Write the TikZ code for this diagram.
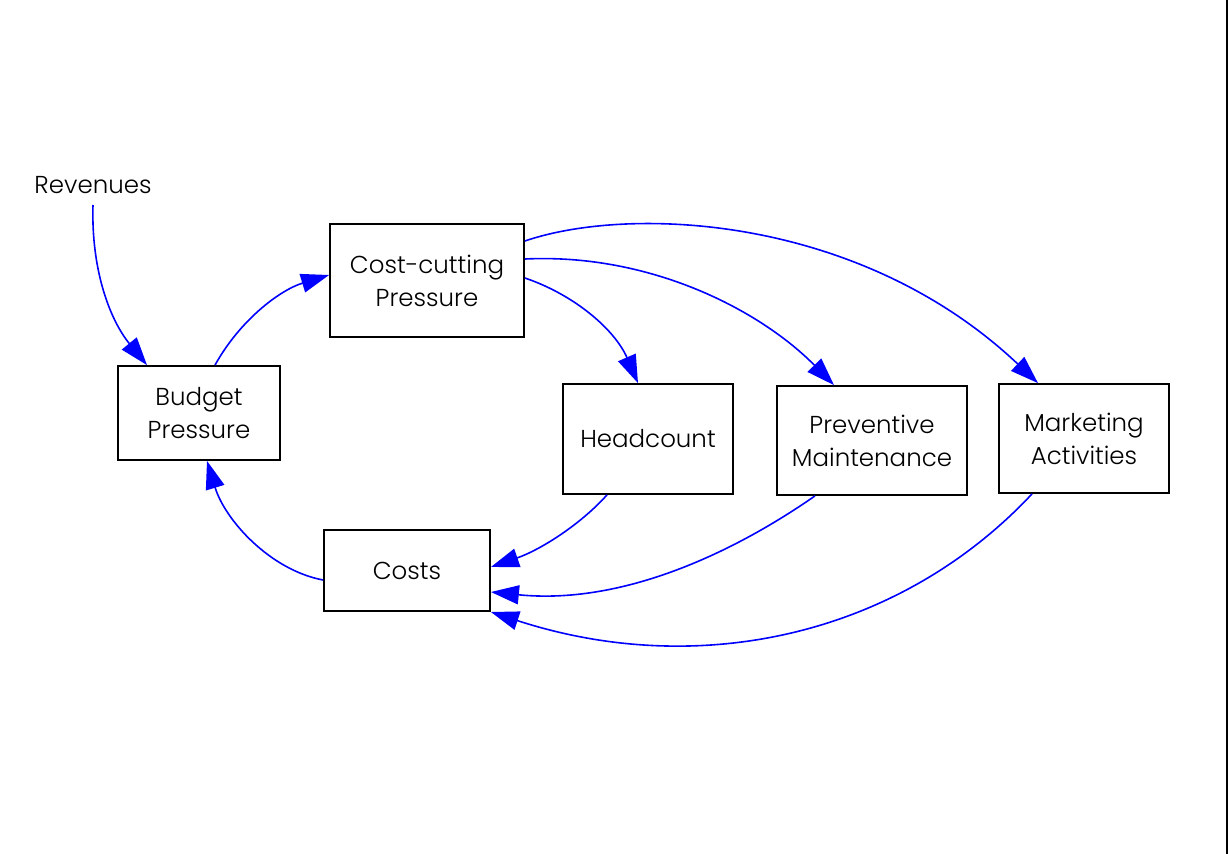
\documentclass[tikz,border=0pt]{standalone}
\usepackage{fontspec}
\setmainfont{Poppins Light}
\usetikzlibrary{arrows.meta}
\begin{document}
\begin{tikzpicture}[x=1pt,y=-1pt,
  box/.style={draw=black,line width=1.8pt,fill=white,inner sep=0pt,align=center,
    font=\fontsize{24.5}{33}\selectfont},
  lbl/.style={inner sep=0pt,font=\fontsize{24.5}{33}\selectfont},
  link/.style={draw=blue,line width=1.6pt,-{Triangle[length=28pt,width=19pt]}}]
\useasboundingbox (0,0) rectangle (1229,854);
\draw[line width=1.8pt] (1227,0) -- (1227,854);

\node[lbl] (rev) at (93,185) {Revenues};
\node[box,minimum width=162pt,minimum height=94pt] (bud) at (199,413) {Budget\\Pressure};
\node[box,minimum width=194pt,minimum height=113pt] (ccp) at (427,280.5) {Cost-cutting\\Pressure};
\node[box,minimum width=170pt,minimum height=110pt] (hc) at (648,439) {Headcount};
\node[box,minimum width=190pt,minimum height=109pt] (pm) at (872,440.5) {Preventive\\Maintenance};
\node[box,minimum width=170pt,minimum height=109pt] (ma) at (1084,438.5) {Marketing\\Activities};
\node[box,minimum width=166pt,minimum height=81pt] (cost) at (407,570.5) {Costs};

\coordinate (rev-s) at (93,205);
\path[link] (rev-s) .. controls (91,270) and (110,320) .. ([xshift=-52pt]bud.north);
\path[link] ([xshift=16pt]bud.north) .. controls (240,320) and (280,290) .. ([yshift=5.5pt]ccp.west);
\path[link] ([yshift=2.5pt]ccp.east) .. controls (575,295) and (615,330) .. ([xshift=-10pt]hc.north);
\path[link] ([yshift=21.5pt]ccp.east) .. controls (650,253) and (760,310) .. ([xshift=-38pt]pm.north);
\path[link] ([yshift=39.5pt]ccp.east) .. controls (630,205) and (860,215) .. ([xshift=-46pt]ma.north);
\path[link] ([xshift=-41pt]hc.south) .. controls (580,525) and (540,550) .. ([yshift=3.5pt]cost.east);
\path[link] ([xshift=-57pt]pm.south) .. controls (730,555) and (620,605) .. ([yshift=-21.5pt]cost.east);
\path[link] ([xshift=-52pt]ma.south) .. controls (900,635) and (700,680) .. ([yshift=-41.5pt]cost.east);
\path[link] ([yshift=-9.5pt]cost.west) .. controls (270,570) and (225,520) .. ([xshift=8pt]bud.south);
\end{tikzpicture}
\end{document}
